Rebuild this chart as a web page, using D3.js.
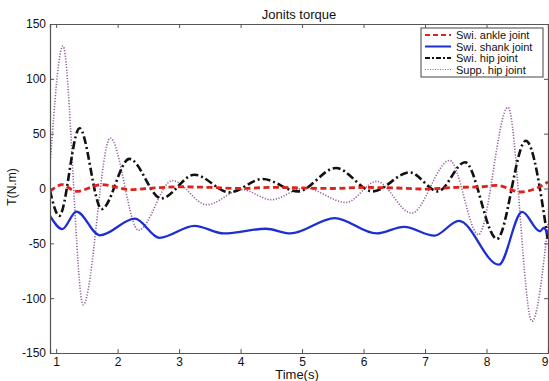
<!DOCTYPE html>
<html>
<head>
<meta charset="utf-8">
<script src="https://cdn.jsdelivr.net/npm/d3@7/dist/d3.min.js"></script>
<style>
  html, body { margin: 0; padding: 0; background: #fff; }
  svg { display: block; font-family: "Liberation Sans", Arial, sans-serif; }
</style>
</head>
<body>
<svg id="chart" width="549" height="381"></svg>
<script>
// Joint torque key samples (time in s, torque in N.m)
const ankleT = [0.9, 1.0, 1.09, 1.33, 1.74, 2.2, 2.6, 3.0, 3.5, 4.0, 4.5, 5.0, 5.5, 6.0, 6.5, 7.0, 7.5, 7.9, 8.17, 8.55, 8.8, 9.0];
const ankleV = [-2.5, 1.5, 3.5, -2.6, 3.5, -1, 0.5, 1.5, 1, 0, 1, 0.5, 0, 1, 0.5, -0.5, 1, 1.5, 2.9, -3.2, 0, 6];

const shankT = [0.9, 1.10, 1.33, 1.71, 2.28, 2.68, 3.25, 3.73, 4.41, 4.81, 5.53, 6.21, 6.66, 7.15, 7.55, 8.2, 8.58, 8.87, 8.93, 9.0];
const shankV = [-25, -37, -21, -42.7, -27.5, -45, -34, -41, -36.7, -41, -27, -41, -35, -43, -29.5, -69.5, -21.3, -39, -36, -42];

const hipT = [0.9, 1.05, 1.38, 1.74, 2.19, 2.71, 3.25, 3.82, 4.36, 4.93, 5.55, 6.15, 6.75, 7.21, 7.65, 8.17, 8.64, 9.0];
const hipV = [-2, -25, 55, -18.7, 27, -9, 12.6, -3.5, 8.7, -2.6, 18.7, -2.6, 14.7, -2.6, 24, -46, 43.5, -48];

const suppT = [0.91, 1.11, 1.44, 1.88, 2.34, 2.89, 3.45, 4.02, 4.5, 5.04, 5.72, 6.21, 6.78, 7.4, 7.87, 8.35, 8.74, 9.0];
const suppV = [28, 130, -106, 46, -38, 7.2, -14.8, -1, -10.2, 0.5, -12.7, 6.5, -22.4, 25.6, -42, 74, -121, -32];

const xTicks = [1, 2, 3, 4, 5, 6, 7, 8, 9];
const yTicks = [-150, -100, -50, 0, 50, 100, 150];
const seriesNames = ["Swi. ankle joint", "Swi. shank joint", "Swi. hip joint", "Supp. hip joint"];

const svg = d3.select("#chart");
const plotLeft = 50, plotRight = 548, plotTop = 24, plotBottom = 353;

const x = d3.scaleLinear().domain([0.9, 9]).range([plotLeft, plotRight]);
const y = d3.scaleLinear().domain([-150, 150]).range([plotBottom, plotTop]);

const styles = [
  { color: "#e0201a", width: 2.8, dash: "6,3.5" },
  { color: "#1d2fd2", width: 2.3, dash: null },
  { color: "#111111", width: 2.6, dash: "8,3,2,3" },
  { color: "#94609a", width: 1.6, dash: "1.2,1.6" }
];

const series = [
  { t: ankleT, v: ankleV },
  { t: shankT, v: shankV },
  { t: hipT, v: hipV },
  { t: suppT, v: suppV }
];

// clip area for the curves
svg.append("defs").append("clipPath").attr("id", "plotclip")
  .append("rect").attr("x", plotLeft).attr("y", plotTop)
  .attr("width", plotRight - plotLeft).attr("height", plotBottom - plotTop);

const line = d3.line()
  .x(d => x(d[0]))
  .y(d => y(d[1]))
  .curve(d3.curveMonotoneX);

const plot = svg.append("g").attr("clip-path", "url(#plotclip)");
// draw in reverse so the ankle curve sits on top
[3, 2, 1, 0].forEach(i => {
  const s = series[i];
  const pts = s.t.map((t, j) => [t, s.v[j]]);
  plot.append("path")
    .datum(pts)
    .attr("d", line)
    .attr("fill", "none")
    .attr("stroke", styles[i].color)
    .attr("stroke-width", styles[i].width)
    .attr("stroke-dasharray", styles[i].dash)
    .attr("stroke-linejoin", "round");
});

// axes with inward ticks, boxed frame
const axisColor = "#555";
const gx = svg.append("g").attr("transform", `translate(0,${plotBottom})`)
  .call(d3.axisBottom(x).tickValues(xTicks).tickFormat(d3.format("d")).tickSize(-4).tickPadding(4));
const gxt = svg.append("g").attr("transform", `translate(0,${plotTop})`)
  .call(d3.axisTop(x).tickValues(xTicks).tickFormat("").tickSize(-4));
const gy = svg.append("g").attr("transform", `translate(${plotLeft},0)`)
  .call(d3.axisLeft(y).tickValues(yTicks).tickFormat(d => String(d)).tickSize(-4).tickPadding(4));
const gyr = svg.append("g").attr("transform", `translate(${plotRight},0)`)
  .call(d3.axisRight(y).tickValues(yTicks).tickFormat("").tickSize(-4));

[gx, gxt, gy, gyr].forEach(g => {
  g.select(".domain").attr("stroke", axisColor).attr("stroke-width", 1.2);
  g.selectAll(".tick line").attr("stroke", axisColor);
  g.selectAll(".tick text").attr("fill", "#111").style("font-size", "12px")
    .style("font-family", "'Liberation Sans', Arial, sans-serif");
});
// the last time label sits against the right edge of the page
gx.selectAll(".tick text").filter(d => d === 9).attr("text-anchor", "end").attr("dx", "0");

// title and axis labels
svg.append("text").attr("x", (plotLeft + plotRight) / 2).attr("y", 19)
  .attr("text-anchor", "middle").style("font-size", "13px").attr("fill", "#111")
  .text("Jonits torque");
svg.append("text").attr("x", (plotLeft + plotRight) / 2 - 2).attr("y", 379)
  .attr("text-anchor", "middle").style("font-size", "13px").attr("fill", "#111")
  .text("Time(s)");
svg.append("text")
  .attr("transform", `translate(16,187) rotate(-90)`)
  .attr("text-anchor", "middle").style("font-size", "12px").attr("fill", "#111")
  .text("T(N.m)");

// legend
const lg = svg.append("g");
lg.append("rect").attr("x", 421).attr("y", 28).attr("width", 122).attr("height", 49)
  .attr("fill", "#fff").attr("stroke", "#444").attr("stroke-width", 1);
seriesNames.forEach((name, i) => {
  const cy = 35 + i * 11.5;
  lg.append("line").attr("x1", 425).attr("x2", 451).attr("y1", cy).attr("y2", cy)
    .attr("stroke", styles[i].color)
    .attr("stroke-width", i === 3 ? 1.2 : 2)
    .attr("stroke-dasharray", i === 0 ? "5,3" : i === 2 ? "5,2,2,2" : i === 3 ? "1,1.5" : null);
  lg.append("text").attr("x", 456).attr("y", cy + 4)
    .style("font-size", "11px").attr("fill", "#111").text(name);
});
</script>
</body>
</html>
